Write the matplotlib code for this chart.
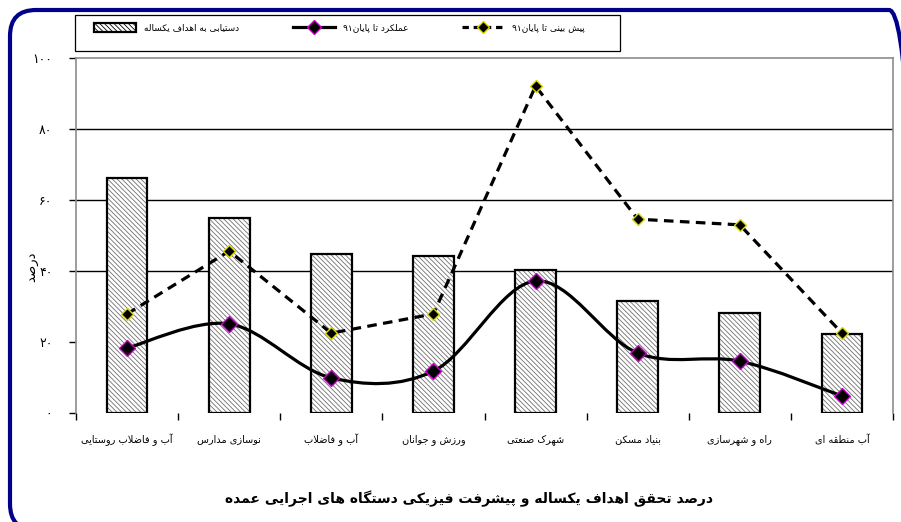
import re
import matplotlib
matplotlib.use('Agg')
import matplotlib.pyplot as plt
import numpy as np
from matplotlib.path import Path
from matplotlib.patches import PathPatch, Patch, FancyBboxPatch, Rectangle
from matplotlib.lines import Line2D
from matplotlib.transforms import IdentityTransform

# ---- data ----
categories = ['آب و فاضلاب روستایی', 'نوسازی مدارس', 'آب و فاضلاب', 'ورزش و جوانان',
              'شهرک صنعتی', 'بنیاد مسکن', 'راه و شهرسازی', 'آب منطقه ای']
target = [66.2, 54.9, 44.8, 44.2, 40.3, 31.5, 28.2, 22.3]      # دستیابی به اهداف یکساله
actual = [18.3, 25.1, 9.9, 11.8, 37.2, 16.9, 14.6, 4.8]        # عملکرد تا پایان۹۱
forecast = [27.9, 45.6, 22.5, 27.9, 92.1, 54.6, 53.0, 22.5]    # پیش بینی تا پایان۹۱
series_labels = ['دستیابی به اهداف یکساله', 'عملکرد تا پایان۹۱', 'پیش بینی تا پایان۹۱']
yticks = [0, 20, 40, 60, 80, 100]
ytick_labels = ['۰', '۲۰', '۴۰', '۶۰', '۸۰', '۱۰۰']
ylabel = 'درصد'
title = 'درصد تحقق اهداف یکساله و پیشرفت فیزیکی دستگاه های اجرایی عمده'

# ---- tiny arabic/persian shaper (matplotlib draws glyphs left to right, unjoined) ----
# letter: (isolated, final, initial, medial)
FORMS = {
    'ا': ('\uFE8D', '\uFE8E', None, None),
    'آ': ('\uFE81', '\uFE82', None, None),
    'ب': ('\uFE8F', '\uFE90', '\uFE91', '\uFE92'),
    'پ': ('\uFB56', '\uFB57', '\uFB58', '\uFB59'),
    'ت': ('\uFE95', '\uFE96', '\uFE97', '\uFE98'),
    'ث': ('\uFE99', '\uFE9A', '\uFE9B', '\uFE9C'),
    'ج': ('\uFE9D', '\uFE9E', '\uFE9F', '\uFEA0'),
    'چ': ('\uFB7A', '\uFB7B', '\uFB7C', '\uFB7D'),
    'ح': ('\uFEA1', '\uFEA2', '\uFEA3', '\uFEA4'),
    'خ': ('\uFEA5', '\uFEA6', '\uFEA7', '\uFEA8'),
    'د': ('\uFEA9', '\uFEAA', None, None),
    'ذ': ('\uFEAB', '\uFEAC', None, None),
    'ر': ('\uFEAD', '\uFEAE', None, None),
    'ز': ('\uFEAF', '\uFEB0', None, None),
    'ژ': ('\uFB8A', '\uFB8B', None, None),
    'س': ('\uFEB1', '\uFEB2', '\uFEB3', '\uFEB4'),
    'ش': ('\uFEB5', '\uFEB6', '\uFEB7', '\uFEB8'),
    'ص': ('\uFEB9', '\uFEBA', '\uFEBB', '\uFEBC'),
    'ض': ('\uFEBD', '\uFEBE', '\uFEBF', '\uFEC0'),
    'ط': ('\uFEC1', '\uFEC2', '\uFEC3', '\uFEC4'),
    'ظ': ('\uFEC5', '\uFEC6', '\uFEC7', '\uFEC8'),
    'ع': ('\uFEC9', '\uFECA', '\uFECB', '\uFECC'),
    'غ': ('\uFECD', '\uFECE', '\uFECF', '\uFED0'),
    'ف': ('\uFED1', '\uFED2', '\uFED3', '\uFED4'),
    'ق': ('\uFED5', '\uFED6', '\uFED7', '\uFED8'),
    'ک': ('\uFB8E', '\uFB8F', '\uFB90', '\uFB91'),
    'گ': ('\uFB92', '\uFB93', '\uFB94', '\uFB95'),
    'ل': ('\uFEDD', '\uFEDE', '\uFEDF', '\uFEE0'),
    'م': ('\uFEE1', '\uFEE2', '\uFEE3', '\uFEE4'),
    'ن': ('\uFEE5', '\uFEE6', '\uFEE7', '\uFEE8'),
    'و': ('\uFEED', '\uFEEE', None, None),
    'ه': ('\uFEE9', '\uFEEA', '\uFEEB', '\uFEEC'),
    'ی': ('\uFBFC', '\uFBFD', '\uFBFE', '\uFBFF'),
    '\uFEFB': ('\uFEFB', '\uFEFC', None, None),   # lam-alef
    '\uFEF5': ('\uFEF5', '\uFEF6', None, None),   # lam-alef madda
}


def shape(text):
    text = text.replace('لا', '\uFEFB').replace('لآ', '\uFEF5')
    out = []
    for i, c in enumerate(text):
        if c not in FORMS:
            out.append(c)
            continue
        prev = text[i - 1] if i > 0 else ''
        nxt = text[i + 1] if i + 1 < len(text) else ''
        iso, fin, ini, med = FORMS[c]
        join_prev = prev in FORMS and FORMS[prev][2] is not None
        join_next = ini is not None and nxt in FORMS
        if join_prev and join_next:
            out.append(med)
        elif join_prev:
            out.append(fin)
        elif join_next:
            out.append(ini)
        else:
            out.append(iso)
    return ''.join(out)


def fa(text):
    '''shape and put in visual (left to right) order, digit runs stay as they are'''
    s = shape(text)
    runs = re.findall(r'\d+|\D+', s)
    return ''.join(r if r[0].isdigit() else r[::-1] for r in reversed(runs))


def smooth_path(xs, ys):
    '''bezier through the points, like a spreadsheet "smoothed line"'''
    pts = np.column_stack([xs, ys]).astype(float)
    n = len(pts)
    verts = [pts[0]]
    codes = [Path.MOVETO]
    for i in range(n - 1):
        p0 = pts[i - 1] if i > 0 else pts[i]
        p1, p2 = pts[i], pts[i + 1]
        p3 = pts[i + 2] if i + 2 < n else pts[i + 1]
        verts += [p1 + (p2 - p0) / 6, p2 - (p3 - p1) / 6, p2]
        codes += [Path.CURVE4] * 3
    return Path(verts, codes)


plt.rcParams['font.family'] = ['DejaVu Sans']
plt.rcParams['hatch.linewidth'] = 0.6

W, H = 901, 522
fig = plt.figure(figsize=(W / 100, H / 100), dpi=100)
fig.patch.set_facecolor('white')
ax = fig.add_axes([76 / W, 1 - 413 / H, (893 - 76) / W, (413 - 58) / H])

x = np.arange(len(categories))
purple = '#CC00CC'
yellow = '#D8D800'
hatch = '\\\\\\\\\\\\\\'

# bars: gray hatch, then black outline
ax.bar(x, target, width=0.4, color='white', edgecolor='#707070', linewidth=0,
       hatch=hatch, zorder=2)
ax.bar(x, target, width=0.4, fill=False, edgecolor='black', linewidth=1.6, zorder=2)

# forecast: dashed straight segments
ax.plot(x, forecast, color='black', lw=2.3, ls=(0, (3, 2)), zorder=3)
ax.plot(x, forecast, ls='none', marker='D', ms=6.5, mfc='black', mec=yellow, mew=1, zorder=4)

# actual: smoothed solid line
ax.add_patch(PathPatch(smooth_path(x, actual), fill=False, ec='black', lw=2.3, zorder=3))
ax.plot(x, actual, ls='none', marker='D', ms=8.5, mfc='black', mec=purple, mew=1, zorder=4)

ax.set_xlim(-0.5, len(categories) - 0.5)
ax.set_ylim(0, 100)

ax.set_yticks(yticks)
ax.set_yticklabels(ytick_labels, fontsize=9)
ax.tick_params(axis='y', length=5, width=1, color='black', pad=12)
ax.yaxis.grid(True, color='black', lw=1)
ax.set_axisbelow(True)
for val, t in zip(yticks, ax.yaxis.get_major_ticks()):
    t.gridline.set_visible(val in (40, 60, 80))

ax.set_xticks(x)
ax.set_xticklabels([fa(c) for c in categories], fontsize=7)
ax.tick_params(axis='x', which='major', length=0, pad=15)
ax.set_xticks(np.arange(len(categories) + 1) - 0.5, minor=True)
ax.tick_params(axis='x', which='minor', length=5, width=1, color='black')

for side in ('left', 'right', 'top'):
    ax.spines[side].set_color('#8C8C8C')
    ax.spines[side].set_linewidth(1.2)
ax.spines['bottom'].set_visible(False)

fig.text(32 / W, 1 - 267 / H, fa(ylabel), rotation=90, fontsize=9.5, ha='center', va='center')
fig.text(469 / W, 1 - 499 / H, fa(title), fontsize=10, fontweight='bold', ha='center', va='center')

# legend
handles = [
    Patch(facecolor='white', edgecolor='black', hatch=hatch, linewidth=1.6),
    Line2D([], [], color='black', lw=2.3, marker='D', ms=7, mfc='black', mec=purple),
    Line2D([], [], color='black', lw=2.3, ls=(0, (2, 1.5)), marker='D', ms=6, mfc='black', mec=yellow),
]
fig.legend(handles, [fa(s) for s in series_labels], ncol=3, frameon=False,
           loc='center left', bbox_to_anchor=(86 / W, 1 - 28 / H), fontsize=6.5,
           handlelength=4.6, handleheight=1.0, handletextpad=0.9, columnspacing=6.0)
fig.add_artist(Rectangle((75, H - 51), 545, 36, transform=IdentityTransform(),
                         fill=False, ec='black', lw=0.9))

# rounded navy frame, right and bottom sides run off the picture
fig.add_artist(FancyBboxPatch((10, -8), 905, H - 10 + 8, boxstyle='round,pad=0,rounding_size=26',
                              transform=IdentityTransform(), fill=False,
                              ec='#00008B', lw=3))

fig.savefig('out.png', dpi=100)
